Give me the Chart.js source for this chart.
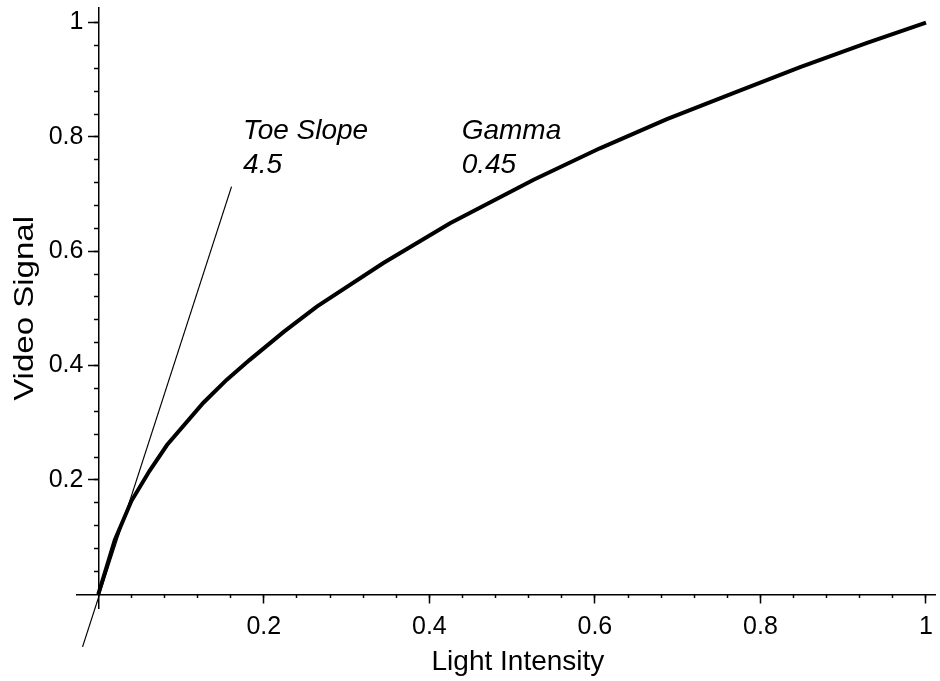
<!DOCTYPE html>
<html>
<head>
<meta charset="utf-8">
<title>Video Signal vs Light Intensity</title>
<script src="https://cdn.jsdelivr.net/npm/chart.js@4.4.0/dist/chart.umd.min.js"></script>
<style>
  body { margin: 0; background: #fff; }
  #wrap { position: relative; width: 940px; height: 681px; }
</style>
</head>
<body>
<div id="wrap"><canvas id="gammaChart"></canvas></div>
<script>
// transfer curve
var lightIntensity = [0, 0.020, 0.040, 0.062, 0.083, 0.127, 0.155, 0.183, 0.224, 0.264, 0.344, 0.425, 0.526, 0.606, 0.687, 0.768, 0.848, 0.928, 1.0];
var videoSignal    = [0, 0.095, 0.163, 0.216, 0.261, 0.335, 0.375, 0.410, 0.459, 0.503, 0.579, 0.649, 0.725, 0.780, 0.831, 0.877, 0.922, 0.964, 1.0];

// toe slope line
var toeX = [-0.019, 0.161];
var toeY = [-0.092, 0.713];

// ticks
var xMajorTicks = [0.2, 0.4, 0.6, 0.8, 1];
var yMajorTicks = [0.2, 0.4, 0.6, 0.8, 1];
var minorTicks = [0.04, 0.08, 0.12, 0.16, 0.2, 0.24, 0.28, 0.32, 0.36, 0.4, 0.44, 0.48,
                  0.52, 0.56, 0.6, 0.64, 0.68, 0.72, 0.76, 0.8, 0.84, 0.88, 0.92, 0.96, 1];

// text
var xTitle = 'Light Intensity';
var yTitle = 'Video Signal';
var noteText = [['Toe Slope', '4.5'], ['Gamma', '0.45']];
var noteX = [0.175, 0.439];
var noteY = [0.797, 0.797];

var FONT = '"Liberation Sans", Arial, Helvetica, sans-serif';
var X_MIN = -0.0257, X_MAX = 1.0109;
var Y_MIN = -0.024, Y_MAX = 1.0254;

function setTicks(list) {
    return function (scale) {
        scale.ticks = list.map(function (v) { return { value: v }; });
    };
}
function noPadding(scale) {
    scale.paddingTop = 0; scale.paddingBottom = 0;
    scale.paddingLeft = 0; scale.paddingRight = 0;
}

var textPlugin = {
    id: 'plotText',
    afterDatasetsDraw: function (chart) {
        var ctx = chart.ctx;
        var xs = chart.scales.x, ys = chart.scales.y;
        ctx.save();
        ctx.fillStyle = '#000';
        ctx.textBaseline = 'alphabetic';

        ctx.font = 'italic 28px ' + FONT;
        ctx.textAlign = 'left';
        for (var i = 0; i < noteText.length; i++) {
            for (var j = 0; j < noteText[i].length; j++) {
                ctx.fillText(noteText[i][j], xs.getPixelForValue(noteX[i]), ys.getPixelForValue(noteY[i]) + j * 34);
            }
        }

        ctx.font = '28px ' + FONT;
        ctx.textAlign = 'center';
        ctx.fillText(xTitle, xs.getPixelForValue(0.507), ys.getPixelForValue(0) + 76);

        ctx.translate(xs.getPixelForValue(0) - 65, ys.getPixelForValue(0.5));
        ctx.rotate(-Math.PI / 2);
        ctx.scale(1.18, 1);
        ctx.fillText(yTitle, 0, 0);
        ctx.restore();
    }
};

var ctx = document.getElementById('gammaChart').getContext('2d');
var chart = new Chart(ctx, {
    type: 'scatter',
    data: {
        datasets: [{
            label: 'Gamma',
            data: lightIntensity.map(function (x, i) { return { x: x, y: videoSignal[i] }; }),
            showLine: true,
            borderColor: '#000',
            borderWidth: 4,
            pointRadius: 0,
            tension: 0,
            fill: false
        }, {
            label: 'Toe Slope',
            data: toeX.map(function (x, i) { return { x: x, y: toeY[i] }; }),
            showLine: true,
            borderColor: '#000',
            borderWidth: 1.2,
            pointRadius: 0,
            fill: false,
            clip: false
        }]
    },
    options: {
        responsive: true,
        maintainAspectRatio: false,
        animation: false,
        layout: { padding: { left: 77, right: 5, top: 8, bottom: 73 } },
        plugins: {
            legend: { display: false },
            tooltip: { enabled: false }
        },
        scales: {
            x: {
                type: 'linear',
                position: { y: 0 },
                min: X_MIN,
                max: X_MAX,
                afterBuildTicks: setTicks(xMajorTicks),
                afterFit: noPadding,
                border: { display: true, color: '#000', width: 1.5 },
                grid: { display: true, drawOnChartArea: false, drawTicks: true, tickLength: 8, tickColor: '#000', tickWidth: 1.5 },
                ticks: {
                    color: '#000',
                    font: { family: FONT, size: 25 },
                    padding: 10,
                    maxRotation: 0,
                    autoSkip: false,
                    callback: function (v) { return String(v); }
                }
            },
            xMinor: {
                type: 'linear',
                axis: 'x',
                position: { y: 0 },
                min: X_MIN,
                max: X_MAX,
                afterBuildTicks: setTicks(minorTicks),
                afterFit: noPadding,
                border: { display: false },
                grid: { display: true, drawOnChartArea: false, drawTicks: true, tickLength: 4, tickColor: '#000', tickWidth: 1.5 },
                ticks: { display: false }
            },
            // y tick labels, anchored just left of the tick marks
            y: {
                type: 'linear',
                position: { x: -0.0179 },
                min: Y_MIN,
                max: Y_MAX,
                afterBuildTicks: setTicks(yMajorTicks),
                afterFit: noPadding,
                border: { display: false },
                grid: { display: false },
                ticks: {
                    color: '#000',
                    font: { family: FONT, size: 25 },
                    autoSkip: false,
                    callback: function (v) { return String(v); }
                }
            },
            yAxis: {
                type: 'linear',
                axis: 'y',
                position: { x: 0 },
                min: Y_MIN,
                max: Y_MAX,
                afterBuildTicks: setTicks(yMajorTicks),
                afterFit: noPadding,
                border: { display: true, color: '#000', width: 1.5 },
                grid: { display: true, drawOnChartArea: false, drawTicks: true, tickLength: 10, tickColor: '#000', tickWidth: 1.5 },
                ticks: { display: false }
            },
            yMinor: {
                type: 'linear',
                axis: 'y',
                position: { x: 0 },
                min: Y_MIN,
                max: Y_MAX,
                afterBuildTicks: setTicks(minorTicks),
                afterFit: noPadding,
                border: { display: false },
                grid: { display: true, drawOnChartArea: false, drawTicks: true, tickLength: 4, tickColor: '#000', tickWidth: 1.5 },
                ticks: { display: false }
            }
        }
    },
    plugins: [textPlugin]
});
</script>
</body>
</html>
